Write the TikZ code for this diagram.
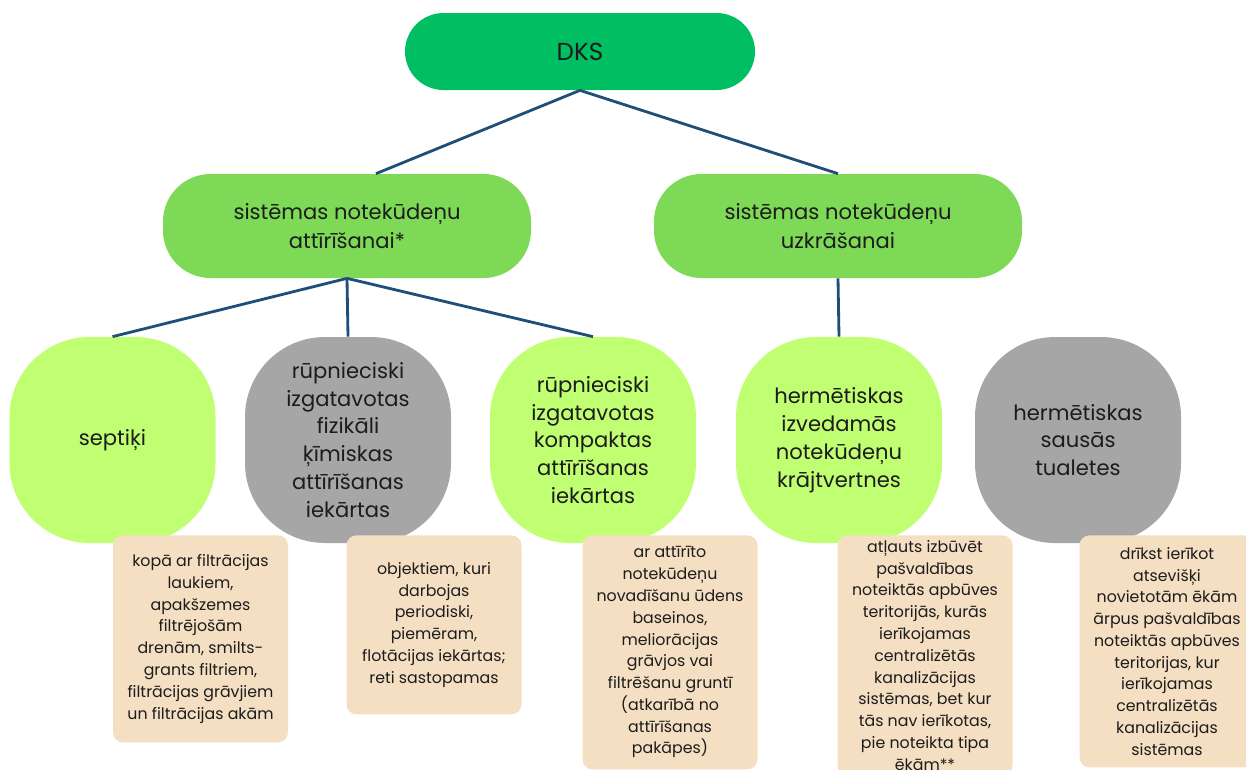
\documentclass[tikz,border=0pt]{standalone}
\usepackage{fontspec}
\setmainfont{Poppins}
\usetikzlibrary{positioning}
\definecolor{zals}{HTML}{00BF63}
\definecolor{zals2}{HTML}{7ED957}
\definecolor{zals3}{HTML}{C1FF72}
\definecolor{peleks}{HTML}{A6A6A6}
\definecolor{smilsu}{HTML}{F5DFC3}
\definecolor{zils}{HTML}{1F4E79}
\definecolor{tinte}{HTML}{1C1C1C}

\begin{document}
\begin{tikzpicture}[text=tinte,
  galva/.style={fill=zals,rounded corners=0.77cm,minimum width=7cm,minimum height=1.54cm,font=\fontsize{14}{16}\selectfont},
  grupa/.style={fill=zals2,rounded corners=0.95cm,minimum width=7.36cm,minimum height=2.08cm,align=center,font=\fontsize{12}{17}\selectfont},
  veids/.style={rounded corners=1.6cm,minimum width=4.12cm,minimum height=4.12cm,align=center,font=\fontsize{12}{15.9}\selectfont},
  piezime/.style={fill=smilsu,rounded corners=0.2cm,minimum width=3.5cm,anchor=north,align=center,font=\fontsize{9}{12.4}\selectfont},
  linija/.style={draw=zils,line width=1.6pt}]
\useasboundingbox (0,0) rectangle (24.92,-15.38);
\node[galva] (dks) at (11.6,-1.03) {DKS};
\node[grupa] (attir) at (6.94,-4.52) {sistēmas notekūdeņu\\attīrīšanai*};
\node[grupa] (uzkr) at (16.76,-4.52) {sistēmas notekūdeņu\\uzkrāšanai};
% trešais līmenis
\node[veids,fill=zals3] (sept) at (2.25,-8.8) {septiķi};
\node[veids,fill=peleks] (fizk) at (6.96,-8.8) {rūpnieciski\\izgatavotas\\fizikāli\\ķīmiskas\\attīrīšanas\\iekārtas};
\node[veids,fill=zals3] (komp) at (11.86,-8.8) {rūpnieciski\\izgatavotas\\kompaktas\\attīrīšanas\\iekārtas};
\node[veids,fill=zals3] (krajt) at (16.78,-8.8) {hermētiskas\\izvedamās\\notekūdeņu\\krājtvertnes};
\node[veids,fill=peleks] (tual) at (21.56,-8.8) {hermētiskas\\sausās\\tualetes};
% piezīmes
\node[piezime,minimum height=4.14cm] (p1) at (4.01,-10.7) {kopā ar filtrācijas\\laukiem,\\apakšzemes\\filtrējošām\\drenām, smilts-\\grants filtriem,\\filtrācijas grāvjiem\\un filtrācijas akām};
\node[piezime,minimum height=3.58cm] (p2) at (8.68,-10.7) {objektiem, kuri\\darbojas\\periodiski,\\piemēram,\\flotācijas iekārtas;\\reti sastopamas};
\node[piezime,minimum height=4.68cm] (p3) at (13.4,-10.7) {ar attīrīto\\notekūdeņu\\novadīšanu ūdens\\baseinos,\\meliorācijas\\grāvjos vai\\filtrēšanu gruntī\\(atkarībā no\\attīrīšanas\\pakāpes)};
\node[piezime,minimum height=4.8cm,inner ysep=0pt] (p4) at (18.5,-10.7) {atļauts izbūvēt\\pašvaldības\\noteiktās apbūves\\teritorijās, kurās\\ierīkojamas\\centralizētās\\kanalizācijas\\sistēmas, bet kur\\tās nav ierīkotas,\\pie noteikta tipa\\ēkām**};
\node[piezime,minimum height=4.64cm] (p5) at (23.34,-10.7) {drīkst ierīkot\\atsevišķi\\novietotām ēkām\\ārpus pašvaldības\\noteiktās apbūves\\teritorijas, kur\\ierīkojamas\\centralizētās\\kanalizācijas\\sistēmas};
% savienojumi
\draw[linija] (dks.south) -- ([xshift=0.58cm]attir.north);
\draw[linija] (dks.south) -- (uzkr.north);
\draw[linija] (attir.south) -- (sept.north);
\draw[linija] (attir.south) -- (fizk.north);
\draw[linija] (attir.south) -- (komp.north);
\draw[linija] (uzkr.south) -- (krajt.north);
\end{tikzpicture}
\end{document}
